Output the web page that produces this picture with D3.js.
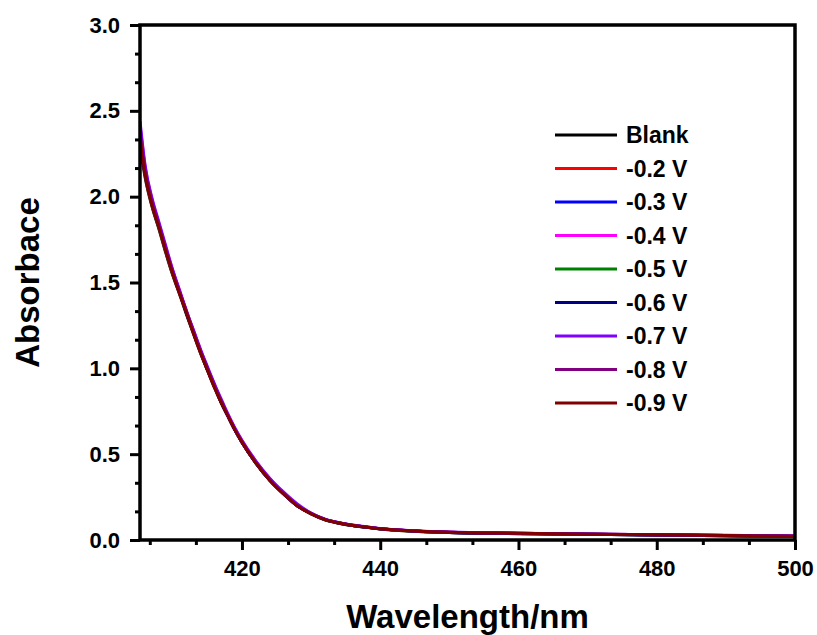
<!DOCTYPE html>
<html>
<head>
<meta charset="utf-8">
<script src="https://cdn.jsdelivr.net/npm/d3@7"></script>
<style>
  body { margin: 0; background: #fff; }
  text { font-family: "Liberation Sans", Arial, sans-serif; font-weight: bold; }
</style>
</head>
<body>
<div id="chart"></div>
<script>
// wavelength (nm) shared by all spectra
const wavelength = [405.25, 406, 407, 408, 409, 410, 411, 412, 413, 414, 415, 416, 417, 418, 419, 420,
  422, 424, 426, 428, 430, 432, 434, 436, 438, 440, 445, 450, 460, 470, 480, 490, 500];

const seriesNames = ['Blank', '-0.2 V', '-0.3 V', '-0.4 V', '-0.5 V', '-0.6 V', '-0.7 V', '-0.8 V', '-0.9 V'];
const seriesColors = ['#000000', '#ff0000', '#0000ff', '#ff00ff', '#008000', '#000080', '#8000ff', '#800080', '#800000'];

const blank = [2.30, 2.11, 1.94, 1.81, 1.67, 1.54, 1.43, 1.31, 1.20, 1.09, 0.99, 0.89, 0.80, 0.72, 0.64, 0.57,
  0.45, 0.35, 0.27, 0.20, 0.155, 0.12, 0.10, 0.085, 0.075, 0.066, 0.052, 0.044, 0.038, 0.034, 0.030, 0.026, 0.022];
const v02 = [2.33, 2.12, 1.95, 1.82, 1.68, 1.55, 1.44, 1.32, 1.21, 1.10, 0.99, 0.90, 0.80, 0.72, 0.64, 0.57,
  0.45, 0.35, 0.27, 0.20, 0.152, 0.118, 0.098, 0.084, 0.074, 0.064, 0.051, 0.043, 0.037, 0.033, 0.029, 0.025, 0.021];
const v03 = [2.36, 2.14, 1.96, 1.83, 1.69, 1.56, 1.44, 1.32, 1.21, 1.10, 1.00, 0.90, 0.81, 0.72, 0.64, 0.57,
  0.45, 0.35, 0.27, 0.20, 0.153, 0.119, 0.099, 0.085, 0.075, 0.065, 0.052, 0.044, 0.038, 0.033, 0.029, 0.025, 0.021];
const v04 = [2.42, 2.17, 1.98, 1.84, 1.70, 1.57, 1.45, 1.33, 1.22, 1.11, 1.00, 0.91, 0.81, 0.73, 0.65, 0.58,
  0.46, 0.36, 0.27, 0.20, 0.155, 0.120, 0.100, 0.086, 0.076, 0.066, 0.053, 0.045, 0.039, 0.034, 0.030, 0.026, 0.023];
const v05 = [2.34, 2.13, 1.95, 1.82, 1.68, 1.55, 1.44, 1.32, 1.21, 1.10, 0.99, 0.90, 0.80, 0.72, 0.64, 0.57,
  0.45, 0.35, 0.27, 0.20, 0.152, 0.118, 0.098, 0.084, 0.074, 0.064, 0.051, 0.043, 0.037, 0.033, 0.029, 0.025, 0.021];
const v06 = [2.33, 2.13, 1.96, 1.83, 1.69, 1.56, 1.44, 1.32, 1.21, 1.10, 0.99, 0.90, 0.80, 0.72, 0.64, 0.57,
  0.45, 0.35, 0.27, 0.20, 0.153, 0.119, 0.099, 0.085, 0.074, 0.065, 0.052, 0.044, 0.038, 0.033, 0.029, 0.025, 0.021];
const v07 = [2.44, 2.18, 1.99, 1.85, 1.71, 1.57, 1.45, 1.33, 1.22, 1.11, 1.01, 0.91, 0.82, 0.73, 0.65, 0.58,
  0.46, 0.36, 0.28, 0.21, 0.157, 0.121, 0.101, 0.087, 0.077, 0.067, 0.054, 0.046, 0.040, 0.035, 0.031, 0.027, 0.024];
const v08 = [2.38, 2.15, 1.97, 1.83, 1.69, 1.56, 1.44, 1.33, 1.21, 1.10, 1.00, 0.90, 0.81, 0.72, 0.64, 0.57,
  0.45, 0.35, 0.27, 0.20, 0.154, 0.120, 0.100, 0.086, 0.075, 0.066, 0.053, 0.045, 0.039, 0.034, 0.030, 0.026, 0.022];
const v09 = [2.35, 2.13, 1.95, 1.82, 1.68, 1.55, 1.43, 1.32, 1.20, 1.09, 0.99, 0.89, 0.80, 0.72, 0.64, 0.57,
  0.45, 0.35, 0.27, 0.20, 0.153, 0.119, 0.099, 0.085, 0.075, 0.066, 0.053, 0.045, 0.039, 0.034, 0.030, 0.026, 0.022];

const seriesValues = [blank, v02, v03, v04, v05, v06, v07, v08, v09];

const xMajor = [420, 440, 460, 480, 500];
const yMajor = [0.0, 0.5, 1.0, 1.5, 2.0, 2.5, 3.0];

const W = 817, H = 635;
const margin = { top: 25, right: 22, bottom: 95, left: 140 };
const width = W - margin.left - margin.right;
const height = H - margin.top - margin.bottom;

const svg = d3.select('#chart').append('svg')
  .attr('width', W).attr('height', H);

const g = svg.append('g')
  .attr('transform', `translate(${margin.left},${margin.top})`);

const x = d3.scaleLinear().domain([405.25, 500]).range([0, width]);
const y = d3.scaleLinear().domain([0, 3]).range([height, 0]);

// minor ticks split each major interval in 3
const xMinor = d3.range(406 + 2 / 3, 500, 20 / 3).filter(v => Math.abs((v - 400) % 20) > 0.5 && Math.abs((v - 400) % 20) < 19.5);
const yMinor = d3.range(0, 3, 0.5 / 3).filter(v => Math.abs(v % 0.5) > 0.01 && Math.abs(v % 0.5) < 0.49);

g.append('clipPath').attr('id', 'clip')
  .append('rect').attr('width', width).attr('height', height);

const line = d3.line()
  .x((d, i) => x(wavelength[i]))
  .y(d => y(d))
  .curve(d3.curveMonotoneX);

g.append('g').attr('clip-path', 'url(#clip)')
  .selectAll('path').data(seriesValues).join('path')
  .attr('d', d => line(d))
  .attr('fill', 'none')
  .attr('stroke', (d, i) => seriesColors[i])
  .attr('stroke-width', 3);

// axes
const xAxis = g.append('g').attr('transform', `translate(0,${height})`)
  .call(d3.axisBottom(x).tickValues(xMajor).tickFormat(d3.format('d')).tickSize(10).tickPadding(10).tickSizeOuter(0));
const xAxisMinor = g.append('g').attr('transform', `translate(0,${height})`)
  .call(d3.axisBottom(x).tickValues(xMinor).tickFormat('').tickSize(5).tickSizeOuter(0));
const yAxis = g.append('g')
  .call(d3.axisLeft(y).tickValues(yMajor).tickFormat(d3.format('.1f')).tickSize(10).tickPadding(10).tickSizeOuter(0));
const yAxisMinor = g.append('g')
  .call(d3.axisLeft(y).tickValues(yMinor).tickFormat('').tickSize(5).tickSizeOuter(0));

[xAxis, xAxisMinor, yAxis, yAxisMinor].forEach(a => {
  a.select('.domain').remove();
  a.selectAll('line').attr('stroke', '#000').attr('stroke-width', 3);
  a.selectAll('text').attr('fill', '#000').style('font-size', '22px');
});

// frame
g.append('rect')
  .attr('width', width).attr('height', height)
  .attr('fill', 'none').attr('stroke', '#000').attr('stroke-width', 3.5);

// axis titles
svg.append('text')
  .attr('x', margin.left + width / 2).attr('y', 628)
  .attr('text-anchor', 'middle')
  .style('font-size', '33px')
  .text('Wavelength/nm');

svg.append('text')
  .attr('transform', `translate(39,${margin.top + height / 2}) rotate(-90)`)
  .attr('text-anchor', 'middle')
  .style('font-size', '33px')
  .text('Absorbace');

// legend
const legend = svg.append('g').attr('transform', 'translate(555,135)');
const rows = legend.selectAll('g').data(seriesNames).join('g')
  .attr('transform', (d, i) => `translate(0,${i * 33.5})`);
rows.append('line')
  .attr('x1', 0).attr('x2', 62)
  .attr('stroke', (d, i) => seriesColors[i])
  .attr('stroke-width', 3);
rows.append('text')
  .attr('x', 71).attr('dy', '0.35em')
  .style('font-size', '23px')
  .text(d => d);
</script>
</body>
</html>
